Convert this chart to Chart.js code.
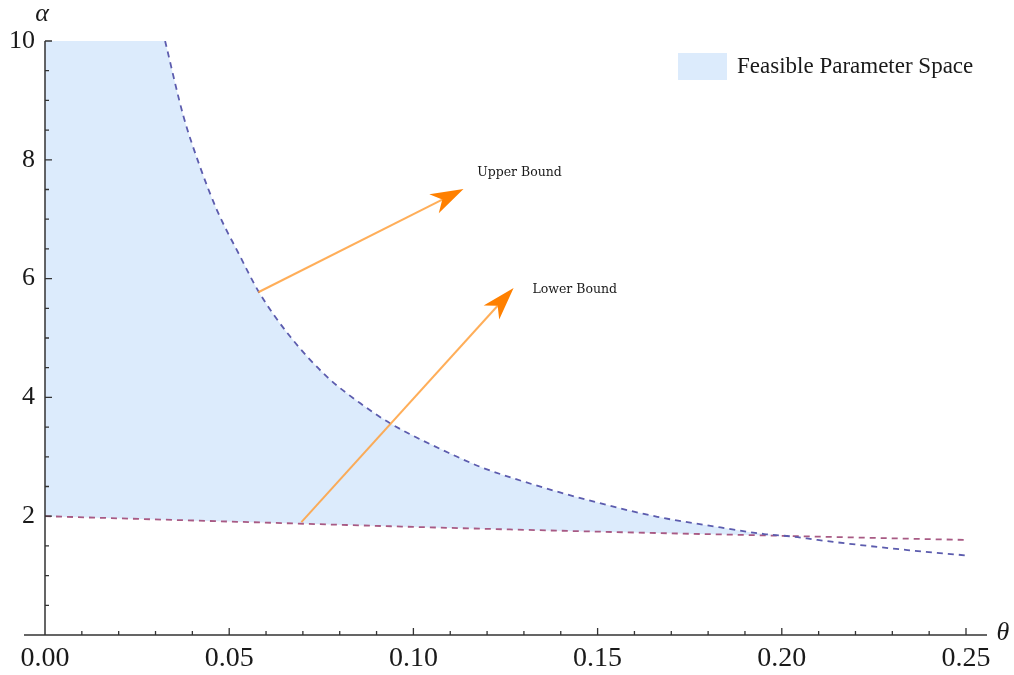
<!DOCTYPE html>
<html>
<head>
<meta charset="utf-8">
<script src="https://cdn.jsdelivr.net/npm/chart.js@4.4.1/dist/chart.umd.min.js"></script>
<style>
	html, body { margin: 0; padding: 0; background: #fff; }
	#wrap { width: 1014px; height: 675px; }
</style>
</head>
<body>
<div id="wrap"><canvas id="chart" width="1014" height="675"></canvas></div>
<script>
	/************  DATA  ************/
	// Upper bound on alpha as a function of theta
	const upperTheta = [0.0326, 0.0376, 0.0421, 0.0467, 0.053, 0.058, 0.0666, 0.0765, 0.0856, 0.0938, 0.1119,
		0.1182, 0.1327, 0.1499, 0.1662, 0.1834, 0.1952, 0.2033, 0.2097, 0.2341, 0.25];
	const upperAlpha = [10.0, 8.73, 7.88, 7.15, 6.37, 5.78, 5.02, 4.35, 3.90, 3.56, 3.00,
		2.83, 2.53, 2.23, 1.99, 1.81, 1.70, 1.655, 1.60, 1.43, 1.34];

	// Lower bound on alpha
	const lowerTheta = [0, 0.05, 0.10, 0.15, 0.20, 0.25];
	const lowerAlpha = [2.0, 1.91, 1.82, 1.74, 1.67, 1.60];

	// where the two bounds meet, and the alpha cap of the plot
	const crossTheta = 0.2025;
	const crossAlpha = 1.665;
	const alphaCap = 10;

	// tick labels
	const xTickLabels = ['0.00', '0.05', '0.10', '0.15', '0.20', '0.25'];
	const yTickLabels = ['2', '4', '6', '8', '10'];

	// arrow annotations (theta, alpha)
	const arrowText = ['Upper Bound', 'Lower Bound'];
	const arrowFrom = [[0.0579, 5.77], [0.0696, 1.90]];
	const arrowTo = [[0.1136, 7.51], [0.1272, 5.84]];
	const arrowTextAt = [[0.1288, 7.78], [0.1438, 5.81]];

	/************  STYLES  ************/
	const fillColor = '#dcebfc';
	const upperColor = '#5c5cae';
	const lowerColor = '#a85a84';
	const axisColor = '#333';
	const textColor = '#1a1a1a';
	const serif = '"Liberation Serif", "Times New Roman", serif';

	const upperPts = upperTheta.map((t, i) => ({ x: t, y: upperAlpha[i] }));
	const lowerPts = lowerTheta.map((t, i) => ({ x: t, y: lowerAlpha[i] }));

	// feasible region, in two parts: the flat cap at alpha = 10 up to where the
	// upper bound starts, then the area under the upper bound until it meets the lower one
	const capPts = [{ x: 0, y: alphaCap }, { x: upperTheta[0] + 0.0003, y: alphaCap }];
	const regionPts = upperPts.filter(p => p.x < crossTheta)
		.concat([{ x: crossTheta, y: crossAlpha }]);

	const isLabelX = v => xTickLabels.includes(v.toFixed(2)) && Math.abs(v * 20 - Math.round(v * 20)) < 1e-6;
	const isLabelY = v => yTickLabels.includes(String(v));

	function drawArrow(ctx, x1, y1, x2, y2) {
		const ang = Math.atan2(y2 - y1, x2 - x1);
		const ux = Math.cos(ang), uy = Math.sin(ang);
		const px = -uy, py = ux;
		const L = 33, W = 10.5, notch = 0.72 * L;

		ctx.save();
		ctx.strokeStyle = 'rgba(255, 160, 60, 0.85)';
		ctx.lineWidth = 2;
		ctx.beginPath();
		ctx.moveTo(x1, y1);
		ctx.lineTo(x2 - ux * notch, y2 - uy * notch);
		ctx.stroke();

		ctx.fillStyle = '#ff8000';
		ctx.beginPath();
		ctx.moveTo(x2, y2);
		ctx.lineTo(x2 - ux * L + px * W, y2 - uy * L + py * W);
		ctx.lineTo(x2 - ux * notch, y2 - uy * notch);
		ctx.lineTo(x2 - ux * L - px * W, y2 - uy * L - py * W);
		ctx.closePath();
		ctx.fill();
		ctx.restore();
	}

	// axes with inward ticks, axis symbols, legend and arrows
	const decorations = {
		id: 'decorations',
		afterDraw(chart) {
			const { ctx, chartArea: a, scales } = chart;
			const sx = scales.x, sy = scales.y;

			ctx.save();
			ctx.strokeStyle = axisColor;
			ctx.lineWidth = 1.5;
			ctx.beginPath();
			ctx.moveTo(a.left - 21, a.bottom);
			ctx.lineTo(a.right + 21, a.bottom);
			ctx.moveTo(a.left, a.top);
			ctx.lineTo(a.left, a.bottom);
			ctx.stroke();

			ctx.lineWidth = 1.3;
			ctx.beginPath();
			sx.ticks.forEach(t => {
				if (t.value <= 1e-9) return;
				const p = sx.getPixelForValue(t.value);
				const len = isLabelX(t.value) ? 7 : 4;
				ctx.moveTo(p, a.bottom);
				ctx.lineTo(p, a.bottom - len);
			});
			sy.ticks.forEach(t => {
				if (t.value <= 1e-9) return;
				const p = sy.getPixelForValue(t.value);
				const len = isLabelY(t.value) ? 7 : 4;
				ctx.moveTo(a.left, p);
				ctx.lineTo(a.left + len, p);
			});
			ctx.stroke();

			// axis symbols
			ctx.fillStyle = textColor;
			ctx.font = 'italic 26px ' + serif;
			ctx.textAlign = 'center';
			ctx.textBaseline = 'middle';
			ctx.fillText('α', a.left - 3, a.top - 27);
			ctx.fillText('θ', a.right + 37, a.bottom - 2);

			// legend
			const region = chart.data.datasets[0];
			ctx.fillStyle = region.backgroundColor;
			ctx.fillRect(a.right - 288, a.top + 12, 49, 27);
			ctx.fillStyle = textColor;
			ctx.font = '23px ' + serif;
			ctx.textAlign = 'left';
			ctx.fillText(region.label, a.right - 229, a.top + 26);

			// arrows to the bounds
			arrowFrom.forEach((f, i) => {
				drawArrow(ctx,
					sx.getPixelForValue(f[0]), sy.getPixelForValue(f[1]),
					sx.getPixelForValue(arrowTo[i][0]), sy.getPixelForValue(arrowTo[i][1]));
				ctx.fillStyle = textColor;
				ctx.font = '12.5px "DejaVu Serif", serif';
				ctx.textAlign = 'center';
				ctx.fillText(arrowText[i],
					sx.getPixelForValue(arrowTextAt[i][0]), sy.getPixelForValue(arrowTextAt[i][1]));
			});
			ctx.restore();
		}
	};

	const ctx = document.getElementById('chart').getContext('2d');
	new Chart(ctx, {
		type: 'line',
		data: {
			datasets: [
				{
					label: 'Feasible Parameter Space',
					data: regionPts,
					borderColor: 'transparent',
					borderWidth: 0,
					backgroundColor: fillColor,
					pointRadius: 0,
					cubicInterpolationMode: 'monotone',
					fill: { target: 3 },
					order: 4,
				},
				{
					label: 'Feasible Parameter Space (cap)',
					data: capPts,
					borderColor: 'transparent',
					borderWidth: 0,
					backgroundColor: fillColor,
					pointRadius: 0,
					tension: 0,
					fill: { target: 3 },
					order: 3,
				},
				{
					label: 'Upper Bound',
					data: upperPts,
					borderColor: upperColor,
					borderWidth: 1.8,
					borderDash: [6, 5],
					pointRadius: 0,
					cubicInterpolationMode: 'monotone',
					fill: false,
					order: 1,
				},
				{
					label: 'Lower Bound',
					data: lowerPts,
					borderColor: lowerColor,
					borderWidth: 1.8,
					borderDash: [6, 5],
					pointRadius: 0,
					cubicInterpolationMode: 'monotone',
					fill: false,
					order: 2,
				},
			],
		},
		options: {
			responsive: false,
			animation: false,
			layout: { padding: { top: 41, right: 48, bottom: 0, left: 0 } },
			plugins: {
				legend: { display: false },
				tooltip: { enabled: false },
			},
			scales: {
				x: {
					type: 'linear',
					min: 0,
					max: 0.25,
					grid: { display: false, drawTicks: false },
					border: { display: false },
					ticks: {
						stepSize: 0.01,
						autoSkip: false,
						maxRotation: 0,
						padding: 7,
						color: textColor,
						font: { family: serif, size: 28 },
						callback: v => (isLabelX(v) ? v.toFixed(2) : ''),
					},
					afterFit: s => { s.height = 40; },
				},
				y: {
					type: 'linear',
					min: 0,
					max: 10,
					grid: { display: false, drawTicks: false },
					border: { display: false },
					ticks: {
						stepSize: 0.5,
						autoSkip: false,
						padding: 10,
						color: textColor,
						font: { family: serif, size: 26 },
						callback: v => (isLabelY(v) ? String(v) : ''),
					},
					afterFit: s => { s.width = 45; },
				},
			},
		},
		plugins: [decorations],
	});
</script>
</body>
</html>
